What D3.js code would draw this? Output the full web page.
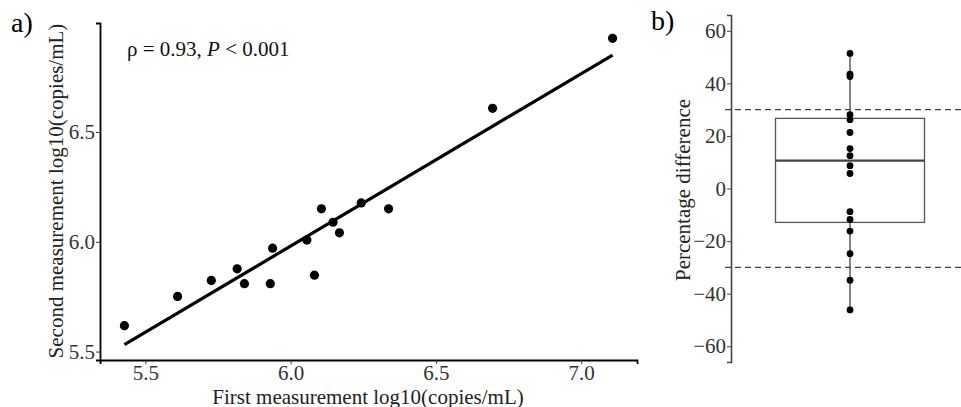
<!DOCTYPE html>
<html>
<head>
<meta charset="utf-8">
<script src="https://cdn.jsdelivr.net/npm/d3@7"></script>
<style>
  body { margin: 0; background: #fff; }
  svg { display: block; }
  text { font-family: "Liberation Serif", "Times New Roman", serif; }
</style>
</head>
<body>
<svg id="chart" width="961" height="407"></svg>
<script>
// panel a: first vs second measurement, log10(copies/mL)
var first_meas = [5.428, 5.611, 5.727, 5.816, 5.841, 5.930, 5.938, 6.056, 6.082, 6.106, 6.146, 6.168, 6.243, 6.337, 6.695, 7.108];
var second_meas = [5.618, 5.751, 5.824, 5.877, 5.809, 5.809, 5.971, 6.008, 5.848, 6.150, 6.089, 6.041, 6.177, 6.150, 6.608, 6.927];
var x_ticks_a = [5.5, 6.0, 6.5, 7.0];
var y_ticks_a = [5.5, 6.0, 6.5];

// panel b: percentage difference
var pct_diff = [51.4, 43.5, 42.6, 28.1, 26.2, 21.3, 15.2, 12.5, 8.7, 5.7, -8.8, -11.8, -16.2, -24.8, -34.9, -46.2];
var pct_limits = [-30, 30];
var y_ticks_b = [-60, -40, -20, 0, 20, 40, 60];

var SERIF = "Liberation Serif";
var svg = d3.select("#chart");

// ---- panel a ----
var pts = first_meas.map((d, i) => ({ x: d, y: second_meas[i] }));

// least squares fit
var mx = d3.mean(first_meas), my = d3.mean(second_meas);
var sxy = d3.sum(pts, d => (d.x - mx) * (d.y - my));
var sxx = d3.sum(pts, d => (d.x - mx) * (d.x - mx));
var slope = sxy / sxx, icpt = my - slope * mx;
var xext = d3.extent(first_meas);
var fit = xext.map(x => ({ x: x, y: icpt + slope * x }));

function expand(ext) {
    var pad = (ext[1] - ext[0]) * 0.05;
    return [ext[0] - pad, ext[1] + pad];
}
var yext = d3.extent(second_meas.concat(fit.map(d => d.y)));

var xa = d3.scaleLinear().domain(expand(xext)).range([100, 637]);
var ya = d3.scaleLinear().domain(expand(yext)).range([360, 23]);

var ga = svg.append("g").attr("id", "panel_a");

var xAxisA = ga.append("g")
    .attr("transform", "translate(0,360)")
    .call(d3.axisBottom(xa).tickValues(x_ticks_a).tickFormat(d3.format(".1f")).tickSizeOuter(0).tickSize(4).tickPadding(1));
var yAxisA = ga.append("g")
    .attr("transform", "translate(100,0)")
    .call(d3.axisLeft(ya).tickValues(y_ticks_a).tickFormat(d3.format(".1f")).tickSizeOuter(0).tickSize(4).tickPadding(1));

[xAxisA, yAxisA].forEach(ax => {
    ax.attr("font-family", SERIF).attr("font-size", 21);
    ax.select(".domain").attr("stroke", "#000").attr("stroke-width", 1.8);
    ax.selectAll(".tick line").attr("stroke", "#333").attr("stroke-width", 1);
    ax.selectAll(".tick text").attr("fill", "#333");
});

ga.append("line")
    .attr("x1", xa(fit[0].x)).attr("y1", ya(fit[0].y))
    .attr("x2", xa(fit[1].x)).attr("y2", ya(fit[1].y))
    .attr("stroke", "#000").attr("stroke-width", 3.2);

ga.selectAll("circle").data(pts).enter().append("circle")
    .attr("cx", d => xa(d.x)).attr("cy", d => ya(d.y))
    .attr("r", 4.6).attr("fill", "#000");

var note = ga.append("text").attr("x", 127).attr("y", 56).attr("fill", "#111").style("font-size", "21px");
note.append("tspan").text("\u03c1 = 0.93, ");
note.append("tspan").style("font-style", "italic").text("P");
note.append("tspan").text(" < 0.001");

ga.append("text")
    .attr("x", 368).attr("y", 403.5)
    .attr("text-anchor", "middle").attr("fill", "#222").style("font-size", "21px")
    .text("First measurement log10(copies/mL)");

ga.append("text")
    .attr("transform", "translate(63,191) rotate(-90)")
    .attr("text-anchor", "middle").attr("fill", "#222").style("font-size", "21px")
    .text("Second measurement log10(copies/mL)");

ga.append("text").attr("x", 11).attr("y", 32).attr("fill", "#000").style("font-size", "28px").text("a)");

// ---- panel b ----
var yb = d3.scaleLinear().domain([-66, 66]).range([362, 15]);
var cx = 850;
var boxHalf = 74.5;

var gb = svg.append("g").attr("id", "panel_b");

var sorted = pct_diff.slice().sort(d3.ascending);
var q1 = d3.quantile(sorted, 0.25), med = d3.quantile(sorted, 0.5), q3 = d3.quantile(sorted, 0.75);
var iqr = q3 - q1;
var wLo = d3.min(sorted.filter(v => v >= q1 - 1.5 * iqr));
var wHi = d3.max(sorted.filter(v => v <= q3 + 1.5 * iqr));

var yAxisB = gb.append("g")
    .attr("transform", "translate(731,0)")
    .call(d3.axisLeft(yb).tickValues(y_ticks_b).tickFormat(d => d < 0 ? "\u2212" + Math.abs(d) : d).tickSizeOuter(0).tickSize(4).tickPadding(1));
yAxisB.attr("font-family", SERIF).attr("font-size", 21);
yAxisB.select(".domain").attr("stroke", "#444").attr("stroke-width", 1.6);
yAxisB.selectAll(".tick line").attr("stroke", "#444");
yAxisB.selectAll(".tick text").attr("fill", "#333");

// whiskers
gb.append("line").attr("x1", cx).attr("x2", cx).attr("y1", yb(q3)).attr("y2", yb(wHi))
    .attr("stroke", "#444").attr("stroke-width", 1.3);
gb.append("line").attr("x1", cx).attr("x2", cx).attr("y1", yb(q1)).attr("y2", yb(wLo))
    .attr("stroke", "#444").attr("stroke-width", 1.3);

gb.append("rect")
    .attr("x", cx - boxHalf).attr("width", boxHalf * 2)
    .attr("y", yb(q3)).attr("height", yb(q1) - yb(q3))
    .attr("fill", "none").attr("stroke", "#555").attr("stroke-width", 1.3);
gb.append("line").attr("x1", cx - boxHalf).attr("x2", cx + boxHalf)
    .attr("y1", yb(med)).attr("y2", yb(med))
    .attr("stroke", "#444").attr("stroke-width", 2.2);

gb.selectAll("line.lim").data(pct_limits).enter().append("line")
    .attr("class", "lim")
    .attr("x1", 725).attr("x2", 961)
    .attr("y1", d => yb(d)).attr("y2", d => yb(d))
    .attr("stroke", "#444").attr("stroke-width", 1.3).attr("stroke-dasharray", "6,4");

gb.selectAll("circle").data(pct_diff).enter().append("circle")
    .attr("cx", cx).attr("cy", d => yb(d)).attr("r", 3.4).attr("fill", "#000");

gb.append("text")
    .attr("transform", "translate(690,190) rotate(-90)")
    .attr("text-anchor", "middle").attr("fill", "#222").style("font-size", "21px")
    .text("Percentage difference");

gb.append("text").attr("x", 651).attr("y", 30).attr("fill", "#000").style("font-size", "28px").text("b)");
</script>
</body>
</html>
